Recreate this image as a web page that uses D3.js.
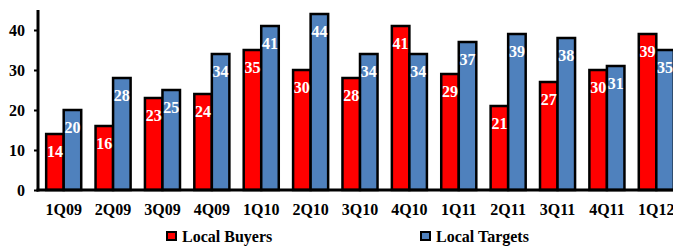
<!DOCTYPE html>
<html>
<head>
<meta charset="utf-8">
<script src="https://cdn.jsdelivr.net/npm/d3@7"></script>
<style>
    body { margin: 0; background: #fff; }
</style>
</head>
<body>
<svg id="chart"></svg>
<script>
// Chart data
const quarters = ["1Q09", "2Q09", "3Q09", "4Q09", "1Q10", "2Q10", "3Q10", "4Q10", "1Q11", "2Q11", "3Q11", "4Q11", "1Q12"];
const localBuyers = [14, 16, 23, 24, 35, 30, 28, 41, 29, 21, 27, 30, 39];
const localTargets = [20, 28, 25, 34, 41, 44, 34, 34, 37, 39, 38, 31, 35];
const seriesNames = ["Local Buyers", "Local Targets"];
const seriesColors = ["#ff0000", "#4f81bd"];
const yTicks = [0, 10, 20, 30, 40];

const frameWidth = 673;
const frameHeight = 246;
const fontFamily = '"Liberation Serif"';

const svg = d3.select("#chart")
    .attr("width", frameWidth)
    .attr("height", frameHeight);

// Scales
const x0 = d3.scaleBand()
    .domain(quarters)
    .range([39, 681])
    .paddingInner(0.29)
    .paddingOuter(0.145);

const x1 = d3.scaleBand()
    .domain(seriesNames)
    .range([0, x0.bandwidth()]);

const y = d3.scaleLinear()
    .domain([0, 45])
    .range([190, 10]);

// Bars
const groups = svg.append("g")
    .selectAll("g")
    .data(quarters)
    .join("g")
    .attr("transform", d => `translate(${x0(d)},0)`);

groups.selectAll("rect")
    .data((d, i) => [localBuyers[i], localTargets[i]].map((v, s) => ({series: s, value: v})))
    .join("rect")
    .attr("x", d => x1(seriesNames[d.series]))
    .attr("y", d => y(d.value))
    .attr("width", x1.bandwidth())
    .attr("height", d => y(0) - y(d.value))
    .attr("fill", d => seriesColors[d.series])
    .attr("stroke", "#000")
    .attr("stroke-width", 2.5);

groups.selectAll("text")
    .data((d, i) => [localBuyers[i], localTargets[i]].map((v, s) => ({series: s, value: v})))
    .join("text")
    .attr("x", d => x1(seriesNames[d.series]) + x1.bandwidth() / 2)
    .attr("y", d => y(d.value) + 23)
    .attr("text-anchor", "middle")
    .attr("font-size", 16)
    .attr("fill", "#fff")
    .text(d => d.value);

// Y axis
const yAxis = svg.append("g")
    .attr("transform", "translate(38,0)")
    .call(d3.axisLeft(y).tickValues(yTicks).tickSize(4).tickPadding(9));
yAxis.select(".domain")
    .attr("stroke-width", 3)
    .attr("d", `M0,${y(0) + 1.5}V${y(45)}`);
yAxis.selectAll(".tick line").attr("stroke-width", 2);
yAxis.selectAll(".tick text")
    .attr("font-size", 16)
    .attr("fill", "#000");

// X axis
const xAxis = svg.append("g")
    .attr("transform", `translate(0,${y(0)})`)
    .call(d3.axisBottom(x0).tickSize(0).tickPadding(14));
xAxis.select(".domain")
    .attr("stroke-width", 3)
    .attr("d", `M36.5,0H${frameWidth}`);
xAxis.selectAll(".tick text")
    .attr("font-size", 16)
    .attr("fill", "#000");

// Legend
const legendX = [167, 421];
const legend = svg.append("g")
    .selectAll("g")
    .data(seriesNames)
    .join("g")
    .attr("transform", (d, i) => `translate(${legendX[i]},232)`);

legend.append("rect")
    .attr("width", 9)
    .attr("height", 8)
    .attr("fill", (d, i) => seriesColors[i])
    .attr("stroke", "#000")
    .attr("stroke-width", 2);

legend.append("text")
    .attr("x", 15)
    .attr("y", 10)
    .attr("font-size", 16)
    .text(d => d);

// Same serif face on every text
svg.selectAll("text")
    .style("font-family", fontFamily)
    .style("font-weight", "bold");
</script>
</body>
</html>
